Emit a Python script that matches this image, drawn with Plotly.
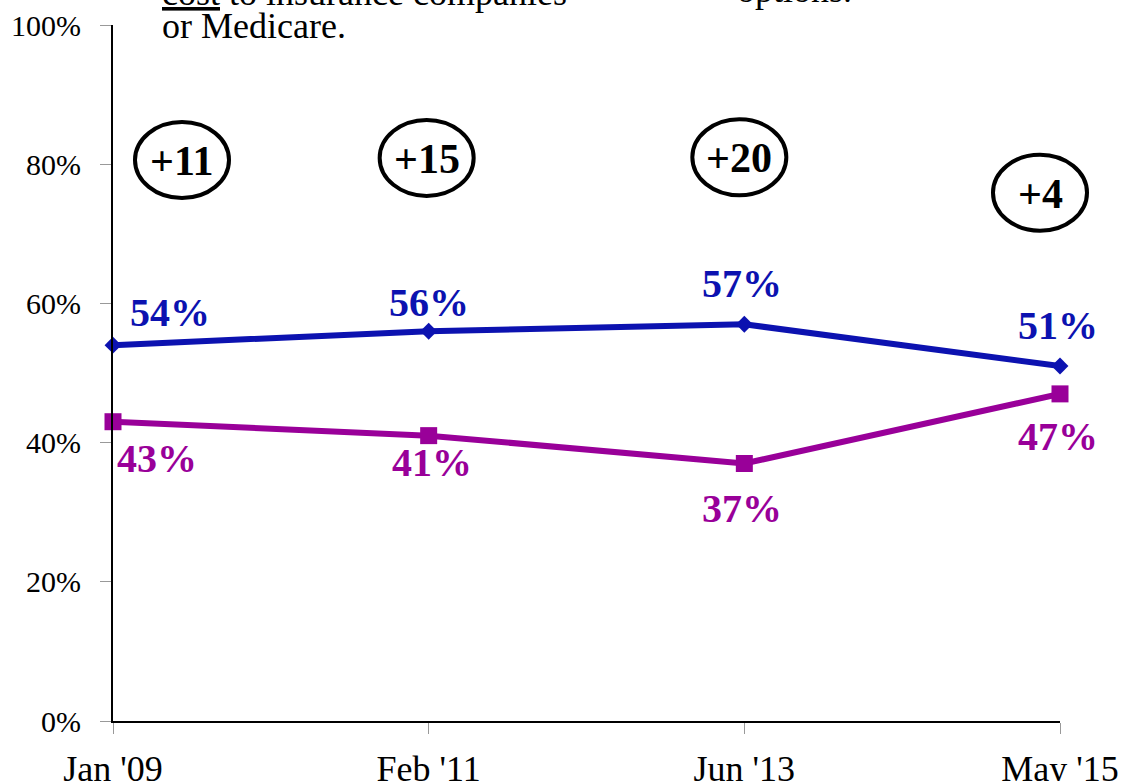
import plotly.graph_objects as go

categories = ["Jan '09", "Feb '11", "Jun '13", "May '15"]
blue_vals = [54, 56, 57, 51]
purple_vals = [43, 41, 37, 47]
y_ticks = [0, 20, 40, 60, 80, 100]

BLUE = '#0C12B0'
PURPLE = '#990099'
FONT = 'Liberation Serif, Times New Roman, serif'

x = list(range(len(categories)))
n = len(categories) - 1

fig = go.Figure()
fig.add_trace(go.Scatter(
    x=x, y=blue_vals, mode='lines+markers',
    line=dict(color=BLUE, width=6),
    marker=dict(symbol='diamond', size=13, color=BLUE),
    cliponaxis=False, showlegend=False
))
fig.add_trace(go.Scatter(
    x=x, y=purple_vals, mode='lines+markers',
    line=dict(color=PURPLE, width=6),
    marker=dict(symbol='square', size=17, color=PURPLE),
    cliponaxis=False, showlegend=False
))

# data labels, offsets in pixels from each point
blue_shift = [(57, 33), (0, 29), (-2, 41), (-2, 41)]
purple_shift = [(44, -37), (3, -27), (-2, -45), (-2, -43)]
annotations = []
for i in x:
    annotations.append(dict(
        x=i, y=blue_vals[i], xref='x', yref='y', text='<b>%d%%</b>' % blue_vals[i],
        showarrow=False, xshift=blue_shift[i][0], yshift=blue_shift[i][1],
        font=dict(family=FONT, size=40, color=BLUE)))
    annotations.append(dict(
        x=i, y=purple_vals[i], xref='x', yref='y', text='<b>%d%%</b>' % purple_vals[i],
        showarrow=False, xshift=purple_shift[i][0], yshift=purple_shift[i][1],
        font=dict(family=FONT, size=40, color=PURPLE)))

# gap ellipses (paper refs so they are not clipped by the plot area)
gap_pos = [(69, 80.6), (-2, 80.9), (-5, 81.0), (-20, 75.9)]
shapes = []
for i in x:
    gap = blue_vals[i] - purple_vals[i]
    dx, yc = gap_pos[i]
    shapes.append(dict(
        type='circle', xref='paper', yref='paper', xsizemode='pixel', ysizemode='pixel',
        xanchor=i / n, yanchor=yc / 100, x0=dx - 47, x1=dx + 47, y0=-38, y1=38,
        line=dict(color='black', width=4)))
    annotations.append(dict(
        x=i, y=yc, xref='x', yref='y', text='<b>+%d</b>' % gap, showarrow=False,
        xshift=dx, yshift=-1, font=dict(family=FONT, size=42, color='black')))

# cut-off text at the top
annotations += [
    dict(x=0.0496, y=1.0465, xref='paper', yref='paper', xanchor='left', yanchor='middle',
         text='<u>cost</u> to insurance companies', showarrow=False,
         font=dict(family=FONT, size=36, color='black')),
    dict(x=0.0496, y=0.9986, xref='paper', yref='paper', xanchor='left', yanchor='middle',
         text='or Medicare.', showarrow=False,
         font=dict(family=FONT, size=36, color='black')),
    dict(x=0.657, y=1.051, xref='paper', yref='paper', xanchor='left', yanchor='middle',
         text='options.', showarrow=False,
         font=dict(family=FONT, size=36, color='black')),
]

fig.update_layout(
    width=1123, height=781,
    margin=dict(l=113, r=63, t=25, b=60),
    paper_bgcolor='white', plot_bgcolor='white',
    annotations=annotations, shapes=shapes,
    xaxis=dict(
        range=[0, n], tickvals=x, ticktext=categories, automargin=False,
        showgrid=False, zeroline=False,
        showline=True, linecolor='black', linewidth=2,
        ticks='outside', ticklen=11, tickcolor='#999999', tickwidth=1,
        ticklabelstandoff=4,
        tickfont=dict(family=FONT, size=36, color='black')),
    yaxis=dict(
        range=[0, 100], tickvals=y_ticks, ticktext=['%d%%' % v for v in y_ticks],
        automargin=False,
        showgrid=False, zeroline=False,
        showline=True, linecolor='black', linewidth=2,
        ticks='outside', ticklen=11, tickcolor='#999999', tickwidth=1,
        ticklabelstandoff=13,
        tickfont=dict(family=FONT, size=30, color='black')),
)

# drop the default body margin so the figure fills the window
fig.write_html("out.html", config={'displayModeBar': False},
               post_script="document.body.style.margin='0';")
